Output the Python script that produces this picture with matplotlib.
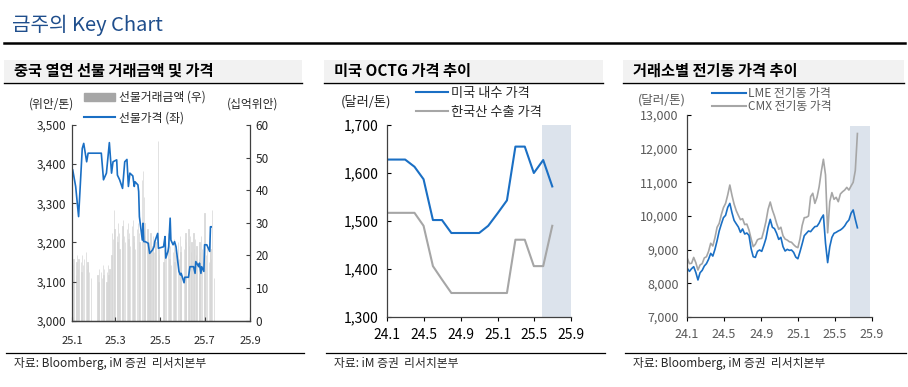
import matplotlib
matplotlib.use('Agg')
import matplotlib.pyplot as plt
import matplotlib.dates as mdates
import matplotlib.ticker as mticker
from matplotlib.lines import Line2D
from matplotlib.patches import Rectangle, Patch
import pandas as pd

plt.rcParams['font.family'] = ['Noto Sans CJK KR', 'DejaVu Sans']

BLUE = '#1a6fc4'
GRAY = '#a6a6a6'
BAR = '#d6d6d6'
SHADE = '#dce3ec'
TXT = '#262626'

# ---- 패널 1: 중국 열연 선물 ----
price_dates = ['2025-01-02', '2025-01-06', '2025-01-10', '2025-01-15', '2025-01-17',
               '2025-01-21', '2025-01-23', '2025-02-10', '2025-02-13', '2025-02-17',
               '2025-02-21', '2025-02-24', '2025-02-26', '2025-03-03', '2025-03-04',
               '2025-03-07', '2025-03-11', '2025-03-14', '2025-03-17', '2025-03-19',
               '2025-03-21', '2025-03-25', '2025-03-27', '2025-03-28', '2025-04-01',
               '2025-04-02', '2025-04-03', '2025-04-07', '2025-04-08', '2025-04-09',
               '2025-04-11', '2025-04-15', '2025-04-17', '2025-04-21', '2025-04-23',
               '2025-04-24', '2025-04-28', '2025-04-29', '2025-05-06', '2025-05-07',
               '2025-05-08', '2025-05-09', '2025-05-12', '2025-05-13', '2025-05-15',
               '2025-05-16', '2025-05-19', '2025-05-21', '2025-05-23', '2025-05-27',
               '2025-05-29', '2025-05-30', '2025-06-03', '2025-06-04', '2025-06-09',
               '2025-06-11', '2025-06-16', '2025-06-18', '2025-06-19', '2025-06-23',
               '2025-06-24', '2025-06-26', '2025-06-27', '2025-06-30', '2025-07-01',
               '2025-07-04', '2025-07-08', '2025-07-09', '2025-07-10']
price_vals = [3385, 3343, 3266, 3440, 3453, 3406, 3428, 3428, 3360, 3377,
              3455, 3377, 3406, 3411, 3372, 3360, 3338, 3406, 3412, 3343,
              3377, 3370, 3343, 3355, 3347, 3330, 3266, 3206, 3249, 3202,
              3202, 3198, 3172, 3181, 3189, 3202, 3223, 3185, 3189, 3202,
              3215, 3160, 3177, 3189, 3262, 3206, 3194, 3202, 3189, 3126,
              3117, 3121, 3097, 3111, 3111, 3138, 3138, 3121, 3151, 3138,
              3147, 3121, 3138, 3126, 3194, 3194, 3177, 3240, 3240]

vol_jan = [17, 19, 14, 18, 20, 16, 19, 18, 15, 20, 17, 19, 21, 16, 18, 17, 15, 13]
vol_feb = [14, 12, 16, 15, 13, 17, 14, 16, 12, 15, 17, 14, 16, 20, 27, 25, 34, 28]
vol_mar = [26, 24, 30, 27, 22, 25, 29, 31, 26, 24, 28, 30, 25, 27, 23, 29, 31, 26, 24, 22, 28]
vol_apr = [30, 27, 24, 43, 46, 38, 30, 26, 28, 25, 24, 22, 27, 23, 26, 21, 25, 24, 55, 22, 20]
vol_may = [18, 22, 25, 20, 27, 24, 19, 23, 17, 21, 25, 18, 22, 20, 24, 19, 26, 21, 23]
vol_jun = [22, 25, 27, 24, 28, 23, 26, 21, 24, 27, 22, 25, 20, 23, 19, 24, 21, 26, 22, 18]
vol_jul = [33, 16, 20, 23, 18, 25, 22, 19, 34, 13]
holidays = ['2025-01-28', '2025-01-29', '2025-01-30', '2025-01-31', '2025-02-03',
            '2025-02-04', '2025-04-04', '2025-05-01', '2025-05-02', '2025-05-05',
            '2025-06-02']

# ---- 패널 2: 미국 OCTG ----
octg_months = pd.date_range('2024-01-01', '2025-07-01', freq='MS')
us_price = [1628, 1628, 1628, 1613, 1587, 1502, 1502, 1475, 1475, 1475,
            1475, 1490, 1516, 1543, 1655, 1655, 1600, 1627, 1572]
kr_export = [1517, 1517, 1517, 1517, 1490, 1406, 1378, 1350, 1350, 1350,
             1350, 1350, 1350, 1350, 1461, 1461, 1406, 1406, 1490]

# ---- 패널 3: 전기동 (주간) ----
lme = [8445, 8355, 8435, 8495, 8325, 8100, 8315, 8385, 8515, 8585,
       8715, 8890, 8810, 9010, 9265, 9555, 9760, 9950, 10020, 10255,
       10375, 10100, 9870, 9770, 9675, 9515, 9615, 9465, 9495, 9425,
       9030, 8790, 8770, 8950, 8990, 8950, 9130, 9335, 9665, 9900,
       9665, 9625, 9485, 9305, 9365, 9090, 8960, 9010, 8980, 8990,
       8920, 8780, 8730, 8940, 9170, 9415, 9485, 9555, 9535, 9615,
       9685, 9695, 9790, 9930, 10030, 9190, 8615, 9090, 9365, 9485,
       9515, 9555, 9585, 9635, 9705, 9810, 9880, 10080, 10180, 9900, 9650]
cmx = [8745, 8585, 8595, 8770, 8615, 8395, 8545, 8585, 8755, 8790,
       8950, 9190, 9110, 9355, 9665, 9780, 10040, 10250, 10375, 10625,
       10920, 10615, 10355, 10160, 10020, 9890, 9920, 9745, 9760, 9585,
       9325, 9090, 9160, 9295, 9325, 9335, 9565, 9840, 10200, 10415,
       10180, 10000, 9780, 9605, 9665, 9415, 9315, 9285, 9235, 9220,
       9150, 9090, 9060, 9325, 9715, 9950, 9960, 10000, 10575, 10675,
       10375, 10555, 10870, 11315, 11685, 11220, 9500, 10425, 10695, 10495,
       10555, 10425, 10655, 10720, 10770, 10850, 10770, 10890, 11000, 11350, 12450]

W, H = 908, 387
fig = plt.figure(figsize=(W / 100, H / 100), dpi=100)


def fx(x):
    return x / W


def fy(y):
    return 1 - y / H


# 상단 제목
fig.text(fx(12), fy(25), '금주의 Key Chart', fontsize=14.5, color='#1f4e8c', va='center')
fig.add_artist(Line2D([fx(4), fx(905)], [fy(43), fy(43)], color='black', lw=1.8))


def panel_frame(x0, x1, title, source):
    fig.add_artist(Rectangle((fx(x0), fy(82)), (x1 - x0) / W, 22 / H,
                             transform=fig.transFigure, color='#f2f2f2', lw=0))
    fig.add_artist(Line2D([fx(x0), fx(x1)], [fy(83), fy(83)], color='black', lw=1.0))
    fig.text(fx(x0 + 10), fy(71), title, fontsize=11, fontweight='bold',
             va='center', color='black')
    fig.add_artist(Line2D([fx(x0 + 2), fx(x1 + 2)], [fy(353), fy(353)], color='black', lw=0.9))
    fig.text(fx(x0 + 10), fy(363), source, fontsize=8.5, va='center', color=TXT)


panel_frame(4, 302, '중국 열연 선물 거래금액 및 가격', '자료: Bloomberg, iM 증권  리서치본부')
panel_frame(324, 603, '미국 OCTG 가격 추이', '자료: iM 증권  리서치본부')
panel_frame(623, 904, '거래소별 전기동 가격 추이', '자료: Bloomberg, iM 증권  리서치본부')

# ---------- 패널 1 ----------
ax1 = fig.add_axes([fx(72), fy(320.7), 178 / W, 195.7 / H])
ax1r = ax1.twinx()
ax1.set_zorder(ax1r.get_zorder() + 1)
ax1.patch.set_visible(False)

days = pd.bdate_range('2025-01-02', '2025-07-14')
days = days[~days.isin(pd.to_datetime(holidays))]
volume = vol_jan + vol_feb + vol_mar + vol_apr + vol_may + vol_jun + vol_jul
n = min(len(days), len(volume))
ax1r.bar(days[:n], volume[:n], width=0.4, color=BAR, edgecolor=BAR, lw=0.5)
ax1.plot(pd.to_datetime(price_dates), price_vals, color=BLUE, lw=1.2)

ax1.set_xlim(pd.Timestamp('2025-01-01'), pd.Timestamp('2025-09-01'))
ax1.set_ylim(3000, 3500)
ax1r.set_ylim(0, 60)
ax1.yaxis.set_major_locator(mticker.MultipleLocator(100))
ax1.yaxis.set_major_formatter(mticker.StrMethodFormatter('{x:,.0f}'))
ax1r.yaxis.set_major_locator(mticker.MultipleLocator(10))
ax1.xaxis.set_major_locator(mdates.MonthLocator(bymonth=[1, 3, 5, 7, 9]))
ax1.xaxis.set_major_formatter(mdates.DateFormatter('%y.%-m'))
for a in (ax1, ax1r):
    a.spines['top'].set_visible(False)
    for s in a.spines.values():
        s.set_color('#404040')
        s.set_linewidth(0.9)
    a.tick_params(direction='in', length=3, width=0.8, labelsize=8.5, colors='#404040',
                  labelcolor=TXT, pad=4)
ax1r.spines['left'].set_visible(False)
ax1.spines['right'].set_visible(False)
ax1.tick_params(axis='x', pad=11, labelsize=8)
fig.text(fx(52), fy(104), '(위안/톤)', fontsize=8.5, ha='center', va='center', color=TXT)
fig.text(fx(253), fy(104), '(십억위안)', fontsize=8.5, ha='center', va='center', color=TXT)
ax1.legend([Patch(color=GRAY), Line2D([], [], color=BLUE, lw=1.5)],
           ['선물거래금액 (우)', '선물가격 (좌)'], loc='upper left',
           bbox_to_anchor=(fx(84), fy(91)), bbox_transform=fig.transFigure,
           frameon=False, fontsize=8.5, handlelength=2.6, handleheight=0.6,
           handletextpad=0.4, labelspacing=0.6, borderpad=0, borderaxespad=0,
           labelcolor=TXT)

# ---------- 패널 2 ----------
ax2 = fig.add_axes([fx(387), fy(317), 184 / W, 192 / H])
ax2.axvspan(pd.Timestamp('2025-05-28'), pd.Timestamp('2025-09-01'), color=SHADE, lw=0, zorder=0)
ax2.plot(octg_months, us_price, color=BLUE, lw=1.5)
ax2.plot(octg_months, kr_export, color=GRAY, lw=1.5)
ax2.set_xlim(pd.Timestamp('2024-01-01'), pd.Timestamp('2025-09-01'))
ax2.set_ylim(1300, 1700)
ax2.yaxis.set_major_locator(mticker.MultipleLocator(100))
ax2.yaxis.set_major_formatter(mticker.StrMethodFormatter('{x:,.0f}'))
ax2.xaxis.set_major_locator(mdates.MonthLocator(bymonth=[1, 5, 9]))
ax2.xaxis.set_major_formatter(mdates.DateFormatter('%y.%-m'))
for s in ('top', 'right'):
    ax2.spines[s].set_visible(False)
for s in ('left', 'bottom'):
    ax2.spines[s].set_color('#404040')
    ax2.spines[s].set_linewidth(0.9)
ax2.tick_params(axis='y', direction='in', length=3, labelsize=10, labelcolor='black', pad=6)
ax2.tick_params(axis='x', direction='out', length=3, labelsize=10, labelcolor='black', pad=5)
fig.text(fx(366), fy(102), '(달러/톤)', fontsize=9.5, ha='center', va='center', color=TXT)
ax2.legend([Line2D([], [], color=BLUE, lw=1.5), Line2D([], [], color=GRAY, lw=1.5)],
           ['미국 내수 가격', '한국산 수출 가격'], loc='upper left',
           bbox_to_anchor=(fx(416), fy(87)), bbox_transform=fig.transFigure,
           frameon=False, fontsize=9.5, handlelength=2.4, handletextpad=0.25,
           labelspacing=0.45, borderpad=0, borderaxespad=0, labelcolor=TXT)

# ---------- 패널 3 ----------
ax3 = fig.add_axes([fx(687), fy(317), 185 / W, 202 / H])
wk = pd.date_range('2024-01-02', periods=len(lme), freq='7D')
ax3.fill_between([pd.Timestamp('2025-06-20'), pd.Timestamp('2025-08-26')], 7000, 12680,
                 color=SHADE, lw=0, zorder=0)
ax3.plot(wk, cmx, color=GRAY, lw=1.2)
ax3.plot(wk, lme, color=BLUE, lw=1.2)
ax3.set_xlim(pd.Timestamp('2024-01-01'), pd.Timestamp('2025-09-01'))
ax3.set_ylim(7000, 13000)
ax3.yaxis.set_major_locator(mticker.MultipleLocator(1000))
ax3.yaxis.set_major_formatter(mticker.StrMethodFormatter('{x:,.0f}'))
ax3.xaxis.set_major_locator(mdates.MonthLocator(bymonth=[1, 5, 9]))
ax3.xaxis.set_major_formatter(mdates.DateFormatter('%y.%-m'))
for s in ('top', 'right'):
    ax3.spines[s].set_visible(False)
for s in ('left', 'bottom'):
    ax3.spines[s].set_color('#404040')
    ax3.spines[s].set_linewidth(0.9)
ax3.tick_params(axis='y', direction='in', length=3, labelsize=9, labelcolor='#595959', pad=6)
ax3.tick_params(axis='x', direction='out', length=3, labelsize=9, labelcolor='#595959', pad=5)
fig.text(fx(662), fy(100), '(달러/톤)', fontsize=9, ha='center', va='center', color='#595959')
ax3.legend([Line2D([], [], color=BLUE, lw=1.5), Line2D([], [], color=GRAY, lw=1.5)],
           ['LME 전기동 가격', 'CMX 전기동 가격'], loc='upper left',
           bbox_to_anchor=(fx(712), fy(87)), bbox_transform=fig.transFigure,
           frameon=False, fontsize=8.5, handlelength=2.9, handletextpad=0.15,
           labelspacing=0.0, borderpad=0, borderaxespad=0, labelcolor='#595959')

fig.savefig('out.png', dpi=100)
